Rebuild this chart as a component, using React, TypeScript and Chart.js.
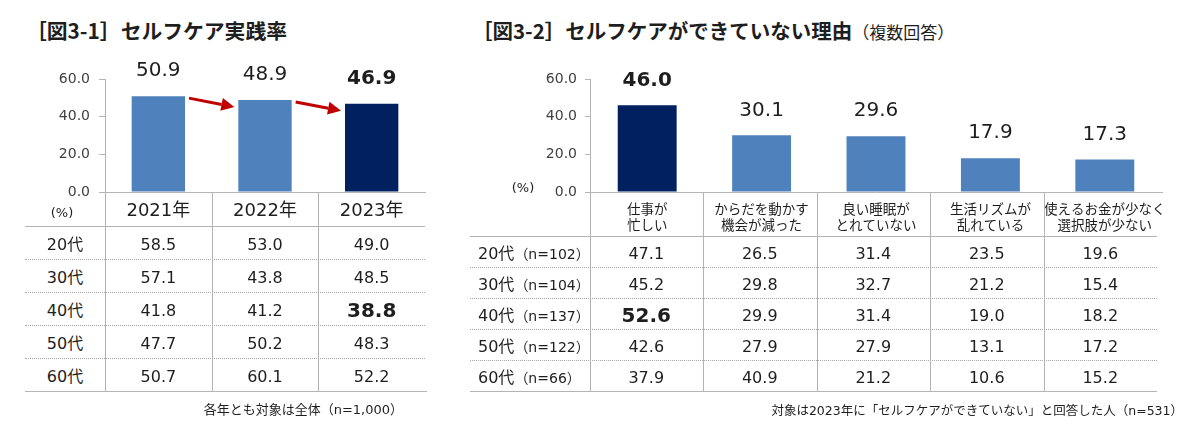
import React, { useEffect, useRef } from 'react';
import { Chart, registerables } from 'chart.js';

Chart.register(...registerables);

// ---------- Data: Fig 3-1 ----------
const years = ['2021年', '2022年', '2023年'];
const practiceRate = [50.9, 48.9, 46.9];
const practiceHighlight = 2;
const ageGroups = ['20代', '30代', '40代', '50代', '60代'];
const practice20s = [58.5, 53.0, 49.0];
const practice30s = [57.1, 43.8, 48.5];
const practice40s = [41.8, 41.2, 38.8];
const practice50s = [47.7, 50.2, 48.3];
const practice60s = [50.7, 60.1, 52.2];
const practiceTableHighlight = { row: 2, col: 2 };
const title1 = '［図3-1］セルフケア実践率';
const note1 = '各年とも対象は全体（n=1,000）';

// ---------- Data: Fig 3-2 ----------
const reasons = [
  ['仕事が', '忙しい'],
  ['からだを動かす', '機会が減った'],
  ['良い睡眠が', 'とれていない'],
  ['生活リズムが', '乱れている'],
  ['使えるお金が少なく', '選択肢が少ない'],
];
const reasonRate = [46.0, 30.1, 29.6, 17.9, 17.3];
const reasonHighlight = 0;
const reasonSamples = [102, 104, 137, 122, 66];
const reason20s = [47.1, 26.5, 31.4, 23.5, 19.6];
const reason30s = [45.2, 29.8, 32.7, 21.2, 15.4];
const reason40s = [52.6, 29.9, 31.4, 19.0, 18.2];
const reason50s = [42.6, 27.9, 27.9, 13.1, 17.2];
const reason60s = [37.9, 40.9, 21.2, 10.6, 15.2];
const reasonTableHighlight = { row: 2, col: 0 };
const title2 = '［図3-2］セルフケアができていない理由';
const title2Sub = '（複数回答）';
const note2 = '対象は2023年に「セルフケアができていない」と回答した人（n=531）';

const yMax = 60;
const yStep = 20;
const unitLabel = '(%)';

// ---------- Styles ----------
const FONT = '"DejaVu Sans", "Noto Sans CJK JP", sans-serif';
const JP = '"Noto Sans CJK JP", sans-serif';
const LIGHT = '#4F81BD';
const DARK = '#002060';
const ARROW = '#C00000';
const AXIS = '#b4b4b4';
const TEXT = '#1e1e1e';
const TICK = '#404040';

type Box = { left: number; top: number; width: number; height: number };

type BarProps = {
  box: Box;
  plotLeft: number;
  plotRight: number;
  plotTop: number;
  plotBottom: number;
  labels: any[];
  values: number[];
  highlight: number;
  barPct: number;
  xFont: any;
  xPad: number;
  tickLen: number;
  tickPad: number;
  arrows?: boolean;
};

function BarChart(p: BarProps) {
  const ref = useRef<HTMLCanvasElement>(null);
  useEffect(() => {
    const valuePlugin = {
      id: 'valueLabels',
      afterDatasetsDraw(chart: any) {
        const ctx = chart.ctx;
        const meta = chart.getDatasetMeta(0);
        ctx.save();
        ctx.textAlign = 'center';
        ctx.textBaseline = 'middle';
        ctx.fillStyle = TEXT;
        meta.data.forEach((el: any, i: number) => {
          ctx.font = (i === p.highlight ? 'bold ' : '') + '20px ' + FONT;
          ctx.fillText(p.values[i].toFixed(1), el.x, el.y - 25);
        });
        ctx.restore();
      },
    };
    const arrowPlugin = {
      id: 'trendArrows',
      afterDatasetsDraw(chart: any) {
        if (!p.arrows) return;
        const ctx = chart.ctx;
        const els = chart.getDatasetMeta(0).data;
        ctx.save();
        ctx.strokeStyle = ARROW;
        ctx.fillStyle = ARROW;
        ctx.lineWidth = 3;
        for (let i = 0; i < els.length - 1; i++) {
          const a = els[i];
          const b = els[i + 1];
          const x1 = a.x + a.width / 2 + 4;
          const y1 = a.y + 2;
          const x2 = b.x - b.width / 2 - 4;
          const y2 = b.y + 7;
          const ang = Math.atan2(y2 - y1, x2 - x1);
          const head = 13;
          const hw = 6.5;
          const bx = x2 - head * Math.cos(ang);
          const by = y2 - head * Math.sin(ang);
          ctx.beginPath();
          ctx.moveTo(x1, y1);
          ctx.lineTo(bx, by);
          ctx.stroke();
          ctx.beginPath();
          ctx.moveTo(x2, y2);
          ctx.lineTo(bx + hw * Math.sin(ang), by - hw * Math.cos(ang));
          ctx.lineTo(bx - hw * Math.sin(ang), by + hw * Math.cos(ang));
          ctx.closePath();
          ctx.fill();
        }
        ctx.restore();
      },
    };
    const chart = new Chart(ref.current as HTMLCanvasElement, {
      type: 'bar',
      data: {
        labels: p.labels,
        datasets: [
          {
            data: p.values,
            backgroundColor: p.values.map((_, i) => (i === p.highlight ? DARK : LIGHT)),
            barPercentage: p.barPct,
            categoryPercentage: 1,
          },
        ],
      },
      options: {
        responsive: false,
        animation: false,
        devicePixelRatio: 1,
        layout: {
          padding: {
            top: p.plotTop - p.box.top,
            right: p.box.left + p.box.width - p.plotRight,
            left: 0,
            bottom: 0,
          },
        },
        plugins: { legend: { display: false }, tooltip: { enabled: false } },
        scales: {
          x: {
            grid: { display: false, drawTicks: false },
            border: { display: true, color: AXIS, width: 1 },
            ticks: { font: p.xFont, color: TEXT, padding: p.xPad, maxRotation: 0, autoSkip: false },
            afterFit: (s: any) => {
              s.height = p.box.top + p.box.height - p.plotBottom;
            },
          },
          y: {
            min: 0,
            max: yMax,
            ticks: {
              stepSize: yStep,
              callback: (v: any) => Number(v).toFixed(1),
              font: { family: FONT, size: 14 },
              color: TICK,
              padding: p.tickPad,
            },
            grid: { drawOnChartArea: false, drawTicks: true, tickLength: p.tickLen, color: AXIS },
            border: { display: true, color: AXIS, width: 1 },
            afterFit: (s: any) => {
              s.width = p.plotLeft - p.box.left;
            },
          },
        },
      } as any,
      plugins: [valuePlugin, arrowPlugin],
    });
    return () => chart.destroy();
  }, []);
  return (
    <canvas
      ref={ref}
      width={p.box.width}
      height={p.box.height}
      style={{ position: 'absolute', left: p.box.left, top: p.box.top, width: p.box.width, height: p.box.height }}
    />
  );
}

const abs = (s: React.CSSProperties): React.CSSProperties => ({ position: 'absolute', ...s });

function HLine({ x, y, w, dotted }: { x: number; y: number; w: number; dotted?: boolean }) {
  return <div style={abs({ left: x, top: y, width: w, height: 0, borderTop: `1px ${dotted ? 'dotted' : 'solid'} ${dotted ? '#a8a8a8' : AXIS}` })} />;
}
function VLine({ x, y1, y2 }: { x: number; y1: number; y2: number }) {
  return <div style={abs({ left: x, top: y1, width: 0, height: y2 - y1, borderLeft: `1px solid ${AXIS}` })} />;
}

export default function App() {
  // Layout of panel 1
  const L = { plotLeft: 105, plotRight: 425, plotTop: 79, plotBottom: 192, tableLeft: 25, headerY: 226, rowH: 33, bottomY: 391 };
  const lColW = (L.plotRight - L.plotLeft) / years.length;
  const lCols = years.map((_, i) => L.plotLeft + i * lColW);
  const practiceRows = [practice20s, practice30s, practice40s, practice50s, practice60s];

  // Layout of panel 2
  const R = { plotLeft: 590, plotRight: 1162, plotTop: 79, plotBottom: 192, tableLeft: 470, tableRight: 1157, headerY: 236, rowH: 31, bottomY: 391 };
  const rColW = (R.tableRight - 589.5) / reasons.length;
  const rCols = reasons.map((_, i) => 589.5 + i * rColW);
  const reasonRows = [reason20s, reason30s, reason40s, reason50s, reason60s];

  return (
    <div style={abs({ left: 0, top: 0, width: 1200, height: 437, background: '#fff', overflow: 'hidden', color: TEXT })}>
      {/* Titles */}
      <div style={abs({ left: 26, top: 17, fontFamily: JP, fontWeight: 700, fontSize: 20.8, lineHeight: '26px', whiteSpace: 'nowrap' })}>{title1}</div>
      <div style={abs({ left: 472, top: 17, fontFamily: JP, fontWeight: 700, fontSize: 20.5, lineHeight: '26px', whiteSpace: 'nowrap' })}>
        {title2}
        <span style={{ fontWeight: 400, fontSize: 17 }}>{title2Sub}</span>
      </div>

      {/* Panel 1 chart */}
      <BarChart
        box={{ left: 0, top: 40, width: 440, height: 200 }}
        plotLeft={L.plotLeft}
        plotRight={L.plotRight}
        plotTop={L.plotTop}
        plotBottom={L.plotBottom}
        labels={years}
        values={practiceRate}
        highlight={practiceHighlight}
        barPct={0.5}
        xFont={{ family: FONT, size: 18, lineHeight: 1.2 }}
        xPad={9}
        tickLen={6}
        tickPad={9}
        arrows
      />
      <div style={abs({ left: 40, top: 204, width: 44, textAlign: 'center', fontFamily: FONT, fontSize: 13, lineHeight: '18px' })}>{unitLabel}</div>

      {/* Panel 1 table */}
      <HLine x={L.tableLeft} y={L.headerY} w={L.plotRight - L.tableLeft} />
      {[1, 2, 3, 4].map((k) => (
        <HLine key={k} x={L.tableLeft} y={L.headerY + k * L.rowH} w={L.plotRight - L.tableLeft} dotted />
      ))}
      <HLine x={L.tableLeft} y={L.bottomY} w={L.plotRight + 2 - L.tableLeft} />
      {lCols.map((x, i) => (
        <VLine key={i} x={x} y1={L.plotBottom} y2={L.bottomY} />
      ))}
      {ageGroups.map((g, r) => (
        <React.Fragment key={g}>
          <div style={abs({ left: L.tableLeft, top: L.headerY + r * L.rowH + 2, width: L.plotLeft - L.tableLeft, height: L.rowH, lineHeight: L.rowH + 'px', textAlign: 'center', fontFamily: FONT, fontSize: 16 })}>{g}</div>
          {practiceRows[r].map((v, c) => {
            const hi = practiceTableHighlight.row === r && practiceTableHighlight.col === c;
            return (
              <div key={c} style={abs({ left: lCols[c], top: L.headerY + r * L.rowH + 2, width: lColW, height: L.rowH, lineHeight: L.rowH + 'px', textAlign: 'center', fontFamily: FONT, fontSize: hi ? 20 : 16, fontWeight: hi ? 700 : 400 })}>
                {v.toFixed(1)}
              </div>
            );
          })}
        </React.Fragment>
      ))}
      <div style={abs({ left: 100, top: 401, width: 303, textAlign: 'right', fontFamily: FONT, fontSize: 13, lineHeight: '18px', whiteSpace: 'nowrap' })}>{note1}</div>

      {/* Panel 2 chart */}
      <BarChart
        box={{ left: 470, top: 40, width: 710, height: 200 }}
        plotLeft={R.plotLeft}
        plotRight={R.plotRight}
        plotTop={R.plotTop}
        plotBottom={R.plotBottom}
        labels={reasons}
        values={reasonRate}
        highlight={reasonHighlight}
        barPct={0.515}
        xFont={{ family: JP, size: 13.5, lineHeight: 1.2 }}
        xPad={8.5}
        tickLen={5}
        tickPad={8}
      />
      <div style={abs({ left: 503, top: 179, width: 40, textAlign: 'center', fontFamily: FONT, fontSize: 13, lineHeight: '18px' })}>{unitLabel}</div>

      {/* Panel 2 table */}
      <HLine x={R.tableLeft} y={R.headerY} w={R.tableRight - R.tableLeft} />
      {[1, 2, 3, 4].map((k) => (
        <HLine key={k} x={R.tableLeft} y={R.headerY + k * R.rowH} w={R.tableRight - R.tableLeft} dotted />
      ))}
      <HLine x={R.tableLeft} y={R.bottomY} w={R.tableRight - R.tableLeft} />
      {rCols.map((x, i) => (
        <VLine key={i} x={x} y1={R.plotBottom} y2={R.bottomY} />
      ))}
      {ageGroups.map((g, r) => (
        <React.Fragment key={g}>
          <div style={abs({ left: R.tableLeft + 8, top: R.headerY + r * R.rowH + 2, height: R.rowH, lineHeight: R.rowH + 'px', fontFamily: FONT, fontSize: 16, whiteSpace: 'nowrap' })}>
            {g}
            <span style={{ fontSize: 14 }}>{`（n=${reasonSamples[r]}）`}</span>
          </div>
          {reasonRows[r].map((v, c) => {
            const hi = reasonTableHighlight.row === r && reasonTableHighlight.col === c;
            return (
              <div key={c} style={abs({ left: rCols[c], top: R.headerY + r * R.rowH + 2, width: rColW, height: R.rowH, lineHeight: R.rowH + 'px', textAlign: 'center', fontFamily: FONT, fontSize: hi ? 20 : 16, fontWeight: hi ? 700 : 400 })}>
                {v.toFixed(1)}
              </div>
            );
          })}
        </React.Fragment>
      ))}
      <div style={abs({ left: 700, top: 402, width: 483, textAlign: 'right', fontFamily: FONT, fontSize: 12.5, lineHeight: '18px', whiteSpace: 'nowrap' })}>{note2}</div>
    </div>
  );
}
